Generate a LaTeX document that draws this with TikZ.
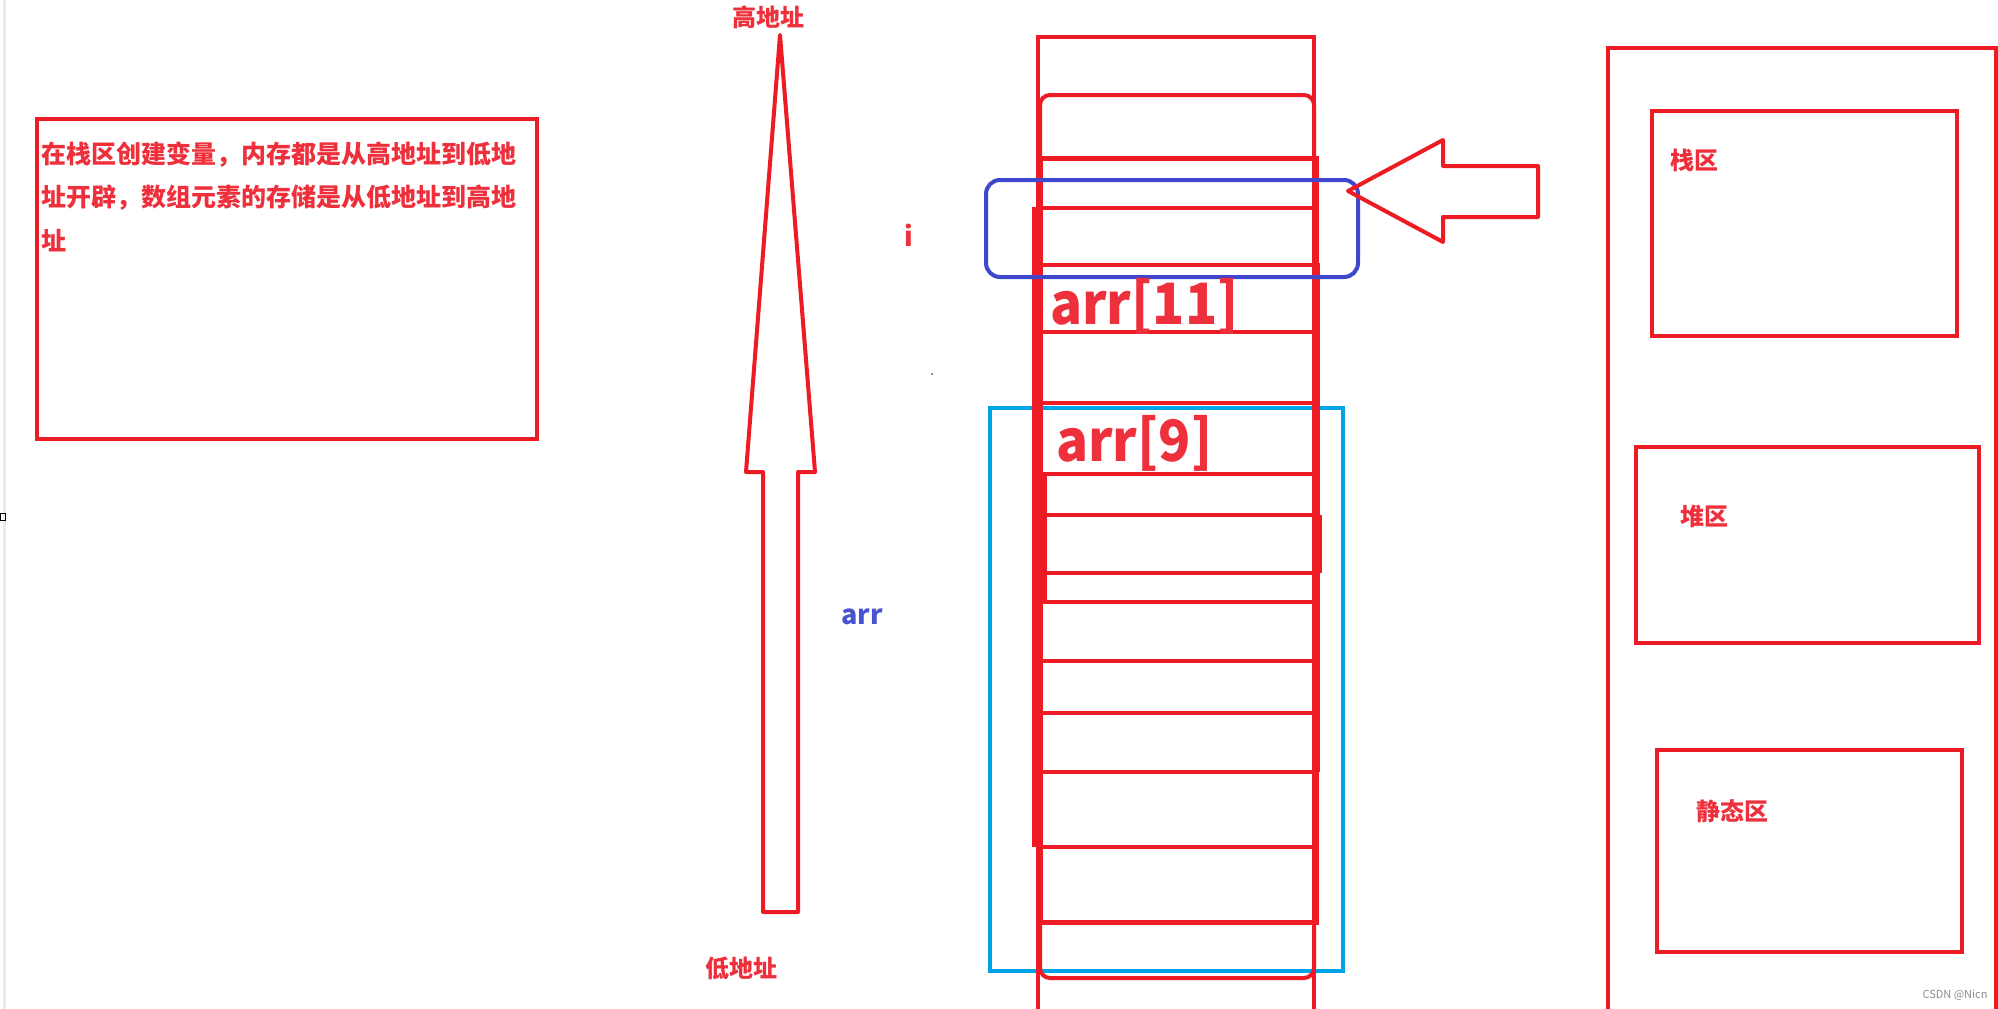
\documentclass[tikz,border=0pt]{standalone}
\usepackage{fontspec}
\newfontfamily\cjk{Noto Sans CJK SC}
\definecolor{pred}{RGB}{237,28,36}
\definecolor{tred}{RGB}{238,48,60}
\definecolor{pblue}{RGB}{63,72,204}
\definecolor{tblue}{RGB}{72,84,206}
\definecolor{pcyan}{RGB}{0,162,232}
\begin{document}
\begin{tikzpicture}[x=1pt,y=-1pt,
  redline/.style={draw=pred,line width=4pt},
  boxline/.style={draw=pred,line width=4.5pt},
  bluebox/.style={draw=pblue,line width=4pt,rounded corners=14pt},
  cyanbox/.style={draw=pcyan,line width=4pt},
  boxtxt/.style={font=\cjk\bfseries\fontsize{25}{25}\selectfont,text=tred,inner sep=0pt,anchor=base west},
  lbl/.style={font=\cjk\bfseries\fontsize{24}{24}\selectfont,text=tred,inner sep=0pt},
  bigtxt/.style={font=\cjk\bfseries\fontsize{57}{57}\selectfont,text=tred,inner sep=0pt,anchor=west},
  smalltxt/.style={font=\cjk\bfseries\fontsize{27}{27}\selectfont,inner sep=0pt},
  wmark/.style={font=\cjk\fontsize{11}{11}\selectfont,text=black!45,inner sep=0pt}
]
\useasboundingbox (0,0) rectangle (1998,1009);
\fill[white] (0,0) rectangle (1998,1009);

% left edge artefacts
\draw[black!8,line width=3pt] (4.5,0) -- (4.5,1009);
\draw[black,line width=1pt] (0.5,513.5) rectangle (5.5,520.5);
\fill[black!70] (932,374) circle (1);

% explanation box
\draw[boxline] (37,119) rectangle (537,439);
\node[boxtxt] (t1) at (41,163) {在栈区创建变量，内存都是从高地址到低地};
\node[boxtxt] (t2) at (41,206) {址开辟，数组元素的存储是从低地址到高地};
\node[boxtxt] (t3) at (41,250) {址};

% up arrow
\draw[redline,line join=round] (780,35) -- (815,472) -- (798,472) -- (798,912)
  -- (763,912) -- (763,472) -- (746,472) -- cycle;
\node[lbl] (hi) at (768,17) {高地址};
\node[lbl] (lo) at (741,968) {低地址};

% cyan frame (arr)
\draw[cyanbox] (990,408) rectangle (1343,971);

% memory column
\draw[redline] (1038,1015) -- (1038,37) -- (1314,37) -- (1314,1015);
\draw[redline,rounded corners=10pt] (1040,95) rectangle (1314,978);
\draw[redline,line width=5pt] (1040,158) rectangle (1316,922);
\foreach \y in {158,208,265,332,403,474,515,573,602,661,713,772,847,922}
  \draw[redline] (1038,\y) -- (1314,\y);
\draw[pred,line width=10pt] (1037,207) -- (1037,847);
\draw[pred,line width=8pt] (1316,263) -- (1316,772);
\draw[pred,line width=5pt] (1044,474) -- (1044,602);
\draw[pred,line width=5pt] (1319,515) -- (1319,573);

% blue frame (i)
\draw[bluebox] (986,180) rectangle (1358,277);

% pointer arrow
\draw[redline,line join=round] (1348,191) -- (1443,140) -- (1443,166) -- (1538,166)
  -- (1538,217) -- (1443,217) -- (1443,242) -- cycle;

% labels in the column
\node[bigtxt] (a11) at (1050,306) {\scalebox{0.93}[1]{arr[11]}};
\node[bigtxt] (a9) at (1056,443) {\scalebox{0.93}[1]{arr[9]}};
\node[smalltxt,text=tred] (iv) at (909,235) {i};
\node[smalltxt,text=tblue] (arrv) at (862,617) {arr};

% memory regions
\draw[redline] (1608,1015) -- (1608,48) -- (1996,48) -- (1996,1015);
\draw[boxline] (1652,111) rectangle (1957,336);
\draw[boxline] (1636,447) rectangle (1979,643);
\draw[boxline] (1657,750) rectangle (1962,952);
\node[lbl] (stack) at (1694,160) {栈区};
\node[lbl] (heap) at (1704,516) {堆区};
\node[lbl] (static) at (1732,811) {静态区};
\node[wmark] (wm) at (1955,995) {CSDN @Nicn};
\end{tikzpicture}
\end{document}
